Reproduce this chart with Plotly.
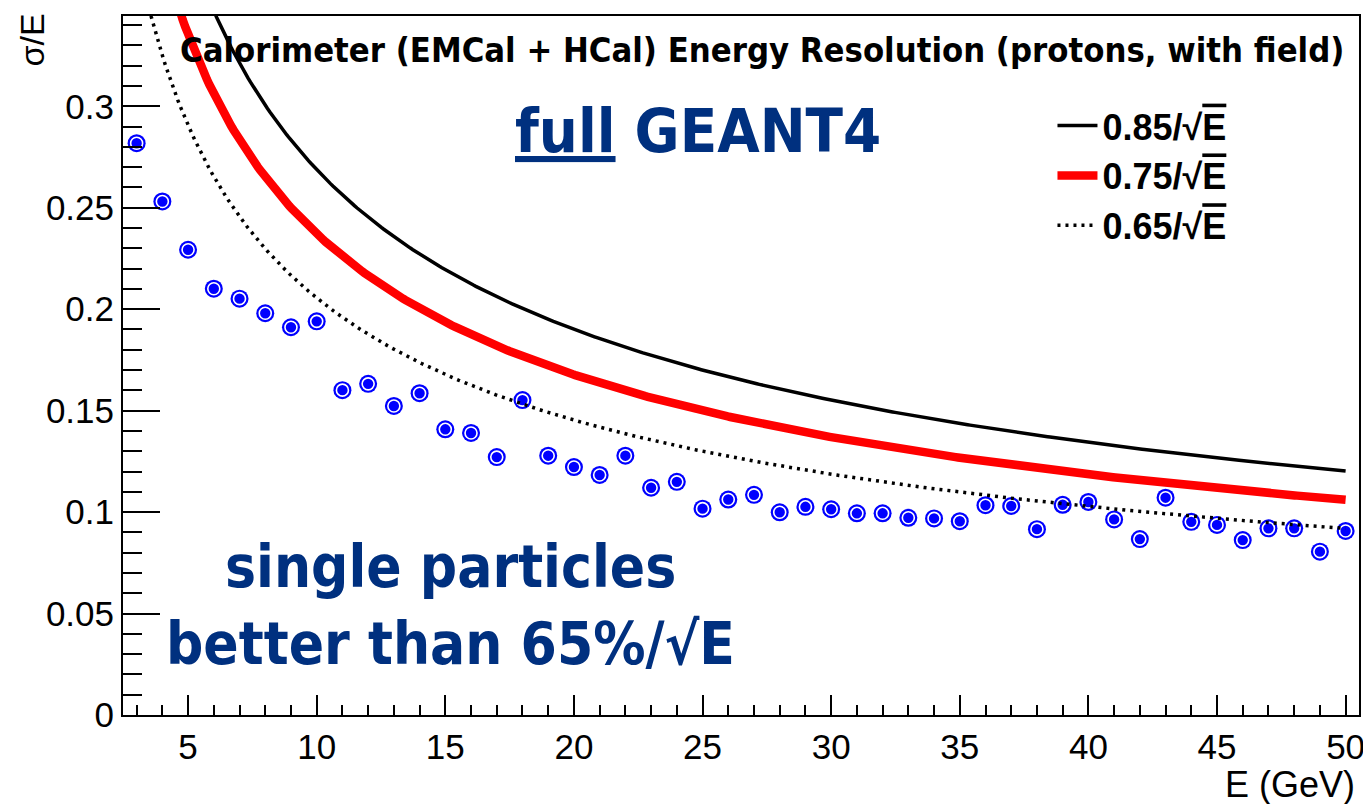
import numpy as np
import plotly.graph_objects as go

# ---- data ----
energy = list(range(3, 51))
resolution = [0.2818, 0.2531, 0.2293, 0.2101, 0.2052, 0.1980, 0.1911, 0.1940,
              0.1601, 0.1632, 0.1523, 0.1586, 0.1408, 0.1390, 0.1271, 0.1552,
              0.1278, 0.1222, 0.1183, 0.1278, 0.1120, 0.1149, 0.1017, 0.1062,
              0.1085, 0.0999, 0.1026, 0.1014, 0.0994, 0.0994, 0.0972, 0.0969,
              0.0955, 0.1034, 0.1030, 0.0916, 0.1036, 0.1050, 0.0964, 0.0867,
              0.1071, 0.0952, 0.0937, 0.0862, 0.0920, 0.0920, 0.0805, 0.0907]
curve_coeffs = [0.85, 0.75, 0.65]
curve_labels = ['<b>0.85/√<span style="text-decoration:overline">E</span></b>',
                '<b>0.75/√<span style="text-decoration:overline">E</span></b>',
                '<b>0.65/√<span style="text-decoration:overline">E</span></b>']
x_ticks = [5, 10, 15, 20, 25, 30, 35, 40, 45, 50]

curve_colors = ["black", "red", "black"]
curve_widths = [3.5, 8.5, 3.5]
curve_dash = ["solid", "solid", "3px,5px"]

COND = "DejaVu Sans Condensed, DejaVu Sans, sans-serif"
SANS = "Liberation Sans, Arial, sans-serif"
BLUE_TXT = "#00307f"

fig = go.Figure()

# markers: outer blue disc, then blue disc with white ring
fig.add_trace(go.Scatter(x=energy, y=resolution, mode="markers", showlegend=False,
                         marker=dict(symbol="circle", size=18, color="#0000ff",
                                     line=dict(width=0)), hoverinfo="skip"))
fig.add_trace(go.Scatter(x=energy, y=resolution, mode="markers", showlegend=False,
                         marker=dict(symbol="circle", size=12, color="#0000ff",
                                     line=dict(width=1.6, color="white"))))

e_grid = np.linspace(3, 50, 500)
for c, lab, col, w, d in zip(curve_coeffs, curve_labels, curve_colors, curve_widths, curve_dash):
    fig.add_trace(go.Scatter(x=e_grid, y=c / np.sqrt(e_grid), mode="lines", name=lab,
                             line=dict(color=col, width=w, dash=d)))

# page body has an 8px margin: compensate so the plot box lands where the reference has it
fig.update_layout(
    width=1363, height=796,
    margin=dict(l=115, r=8, t=6, b=89),
    paper_bgcolor="white", plot_bgcolor="white",
    font=dict(family=SANS, size=35, color="black"),
    legend=dict(x=0.752, y=0.886, xanchor="left", yanchor="top",
                bgcolor="rgba(0,0,0,0)", borderwidth=0,
                font=dict(family=SANS, size=36, color="black"),
                tracegroupgap=0, itemwidth=40),
)

fig.update_xaxes(range=[2.47, 50.52], tickmode="array", tickvals=x_ticks,
                 ticks="inside", ticklen=20, tickwidth=2, tickcolor="black",
                 showline=True, linecolor="black", linewidth=2, mirror=True,
                 showgrid=False, zeroline=False,
                 tickfont=dict(family=SANS, size=35),
                 minor=dict(ticks="inside", ticklen=10, tickwidth=2, dtick=1, tick0=0,
                            tickcolor="black", showgrid=False))
fig.update_yaxes(range=[0, 0.3445], tick0=0, dtick=0.05,
                 ticks="inside", ticklen=37, tickwidth=2, tickcolor="black",
                 showline=True, linecolor="black", linewidth=2, mirror=True,
                 showgrid=False, zeroline=False,
                 tickfont=dict(family=SANS, size=35),
                 minor=dict(ticks="inside", ticklen=19, tickwidth=2, dtick=0.01, tick0=0,
                            tickcolor="black", showgrid=False))

annotations = [
    dict(text="<b>Calorimeter (EMCal + HCal) Energy Resolution (protons, with field)</b>",
         xref="paper", yref="paper", x=0.9895, y=0.952, xanchor="right", yanchor="middle",
         showarrow=False, font=dict(family=COND, size=34.3, color="black")),
    dict(text="<b><u>full</u> GEANT4</b>",
         xref="paper", yref="paper", x=0.4653, y=0.836, xanchor="center", yanchor="middle",
         showarrow=False, font=dict(family=COND, size=61, color=BLUE_TXT)),
    dict(text="<b>single particles</b>",
         xref="paper", yref="paper", x=0.265, y=0.212, xanchor="center", yanchor="middle",
         showarrow=False, font=dict(family=COND, size=58, color=BLUE_TXT)),
    dict(text="<b>better than 65%/√E</b>",
         xref="paper", yref="paper", x=0.265, y=0.101, xanchor="center", yanchor="middle",
         showarrow=False, font=dict(family=COND, size=58, color=BLUE_TXT)),
    dict(text="E (GeV)", xref="paper", yref="paper", x=1, y=0, xanchor="right", yanchor="top",
         xshift=-2, yshift=-47, showarrow=False, font=dict(family=SANS, size=36)),
    dict(text="σ/E", xref="paper", yref="paper", x=0, y=1, xanchor="right", yanchor="top",
         xshift=-71, yshift=4, textangle=-90, showarrow=False, font=dict(family=SANS, size=34)),
]
fig.update_layout(annotations=annotations)

fig.write_html("out.html")
